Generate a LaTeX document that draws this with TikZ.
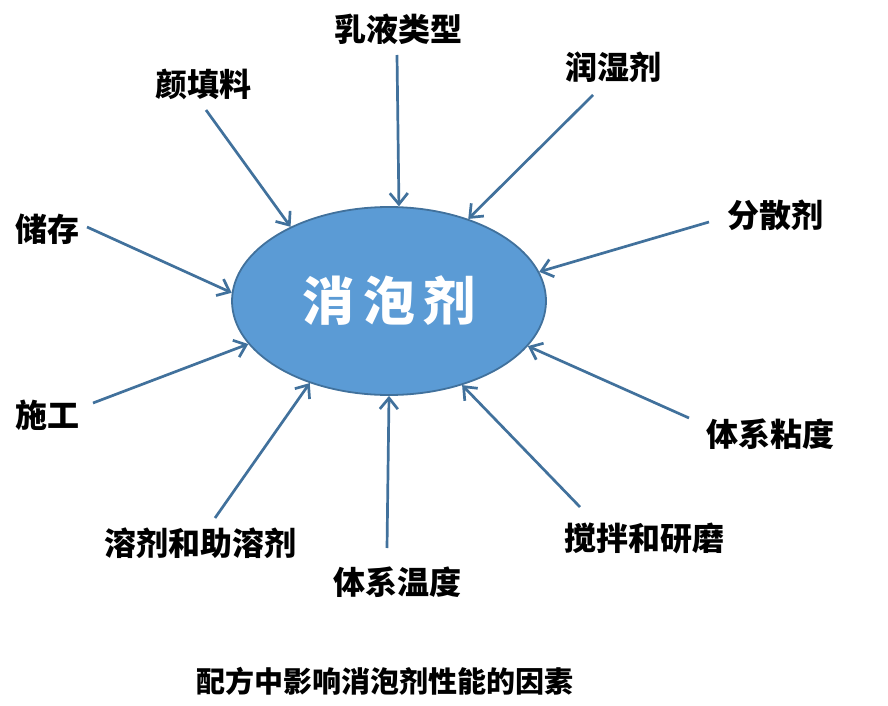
\documentclass[tikz,border=0pt]{standalone}
\usepackage{fontspec}
\newfontfamily\cjk{Noto Sans CJK SC}
\usetikzlibrary{shapes.geometric, arrows.meta}
\definecolor{hubfill}{RGB}{91,155,213}
\definecolor{hubedge}{RGB}{65,113,156}

\begin{document}
\begin{tikzpicture}[
  x=1pt, y=-1pt,
  hub/.style={ellipse, draw=hubedge, line width=1.8pt, fill=hubfill,
    minimum width=314pt, minimum height=188pt, inner sep=0pt,
    text=white, font=\cjk\bfseries\fontsize{52}{60}\selectfont},
  factor/.style={inner sep=0pt, font=\cjk\bfseries\fontsize{32}{36}\selectfont},
  caption/.style={inner sep=0pt, font=\cjk\bfseries\fontsize{29}{33}\selectfont},
  push/.style={draw=hubedge, line width=2.7pt,
    -{Straight Barb[length=11pt, width=18pt, line width=2.7pt]}}
]
  \useasboundingbox (0,0) rectangle (888,706);

  \node[hub] (xpj) at (389,301) {消\hspace{9pt}泡\hspace{9pt}剂};

  \node[factor] (ruye)   at (398,29)  {乳液类型};
  \node[factor] (runshi) at (613,67)  {润湿剂};
  \node[factor] (yantl)  at (203,84)  {颜填料};
  \node[factor] (fensan) at (775,215) {分散剂};
  \node[factor] (chucun) at (48,229)  {储存};
  \node[factor] (shigong) at (48,415) {施工};
  \node[factor] (niandu) at (770,434) {体系粘度};
  \node[factor] (jiaoban) at (644,538) {搅拌和研磨};
  \node[factor] (rongji) at (200,543) {溶剂和助溶剂};
  \node[factor] (wendu)  at (397,582) {体系温度};

  \node[caption] (title) at (385,681) {配方中影响消泡剂性能的因素};

  % arrow tails
  \coordinate (ruye-t)    at (397,55);
  \coordinate (runshi-t)  at (593,95);
  \coordinate (yantl-t)   at (206,110);
  \coordinate (fensan-t)  at (709,222);
  \coordinate (chucun-t)  at (87,227);
  \coordinate (shigong-t) at (93,403);
  \coordinate (niandu-t)  at (689,418);
  \coordinate (jiaoban-t) at (580,507);
  \coordinate (rongji-t)  at (215,518);
  \coordinate (wendu-t)   at (387,548);

  \draw[push] (ruye-t)    -- (xpj.84);
  \draw[push] (runshi-t)  -- (xpj.46);
  \draw[push] (yantl-t)   -- (xpj.143);
  \draw[push] (fensan-t)  -- (xpj.11);
  \draw[push] (chucun-t)  -- (xpj.177);
  \draw[push] (shigong-t) -- (xpj.197);
  \draw[push] (niandu-t)  -- (xpj.-18);
  \draw[push] (jiaoban-t) -- (xpj.-49);
  \draw[push] (rongji-t)  -- (xpj.226);
  \draw[push] (wendu-t)   -- (xpj.270);

\end{tikzpicture}
\end{document}
